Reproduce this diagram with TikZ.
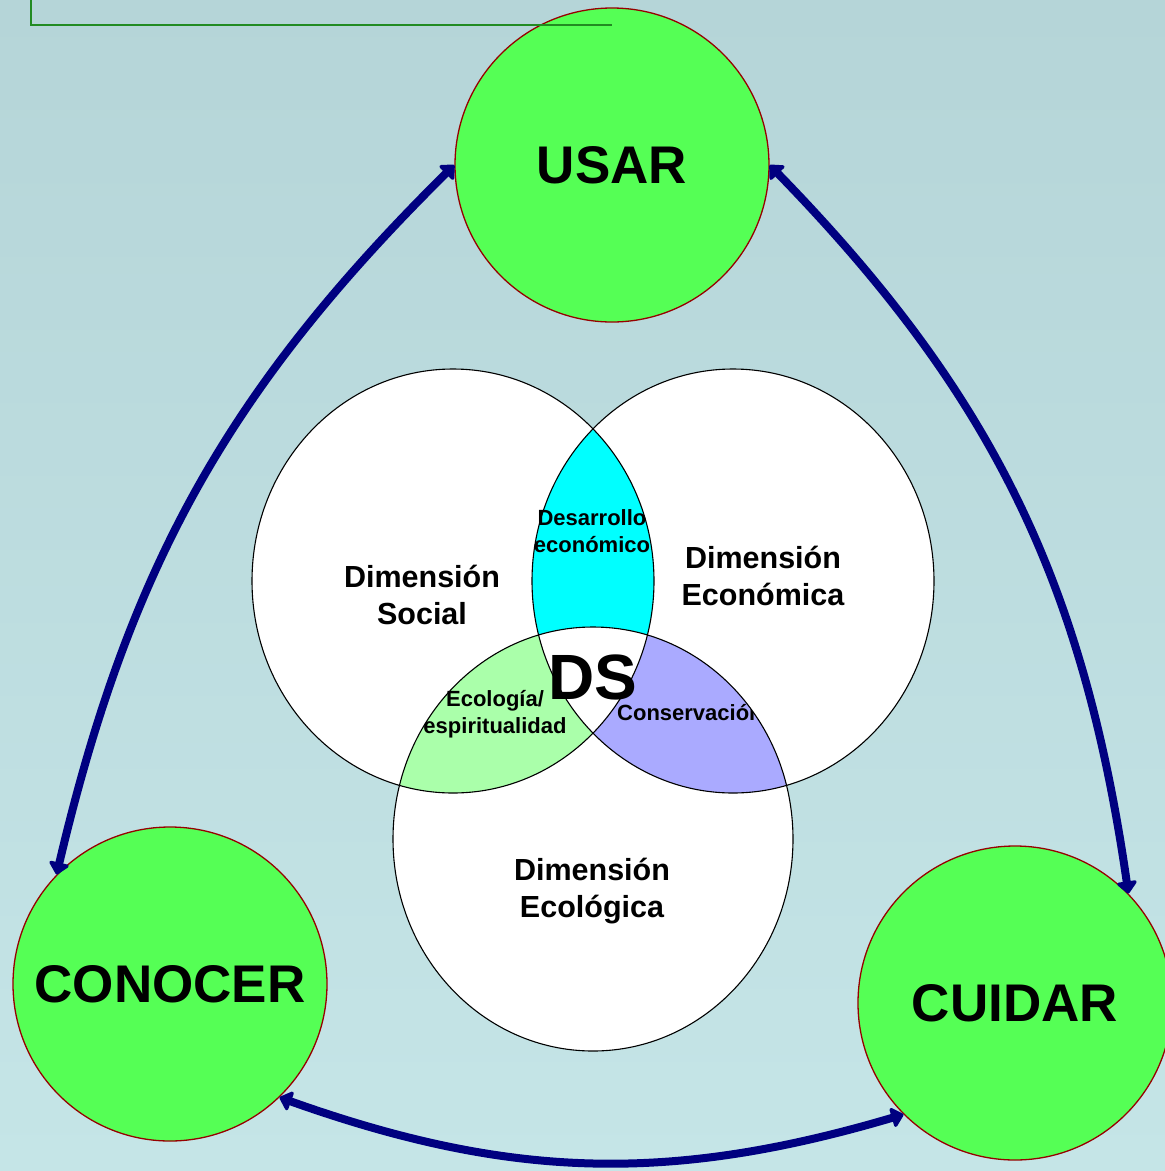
\documentclass[tikz,border=0pt]{standalone}
\usepackage{fontspec}
\setmainfont{Liberation Sans}
\usetikzlibrary{arrows.meta}
\definecolor{bgtop}{RGB}{181,213,216}
\definecolor{bgbot}{RGB}{197,229,231}
\definecolor{bright}{RGB}{85,255,85}
\definecolor{ringred}{RGB}{150,0,0}
\definecolor{navyarrow}{RGB}{0,0,128}
\definecolor{cyanfill}{RGB}{0,255,255}
\definecolor{greenfill}{RGB}{170,255,170}
\definecolor{bluefill}{RGB}{170,170,255}
\definecolor{boxgreen}{RGB}{34,139,34}
\begin{document}
\begin{tikzpicture}[x=1pt,y=-1pt,
  bigc/.style={circle,fill=bright,draw=ringred,line width=1.3pt,minimum size=314pt,inner sep=0pt,
    font=\bfseries\fontsize{53}{60}\selectfont},
  arr/.style={line width=8pt,draw=navyarrow,{Triangle[length=13pt,width=23pt,round]}-{Triangle[length=13pt,width=23pt,round]}},
  dimtxt/.style={align=center,font=\bfseries\fontsize{30.5}{37}\selectfont,inner sep=0pt},
  smalltxt/.style={align=center,font=\bfseries\fontsize{22}{27}\selectfont,inner sep=0pt},
  vline/.style={draw=black,line width=1.1pt}]
\useasboundingbox (0,0) rectangle (1165,1171);
\shade[top color=bgtop,bottom color=bgbot] (0,0) rectangle (1165,1171);
% Venn fills
\def\Soc{(453,581) ellipse [x radius=201pt,y radius=212pt]}
\def\Eco{(733,581) ellipse [x radius=201pt,y radius=212pt]}
\def\Ecl{(593,839) ellipse [x radius=200pt,y radius=212pt]}
\fill[white] \Soc; \fill[white] \Eco; \fill[white] \Ecl;
\begin{scope}\clip \Soc; \fill[cyanfill] \Eco; \end{scope}
\begin{scope}\clip \Soc; \fill[greenfill] \Ecl; \end{scope}
\begin{scope}\clip \Eco; \fill[bluefill] \Ecl; \end{scope}
\begin{scope}\clip \Soc; \clip \Eco; \fill[white] \Ecl; \end{scope}
\draw[vline] \Soc; \draw[vline] \Eco; \draw[vline] \Ecl;
% Venn texts
\node[dimtxt] (social) at (422,595) {Dimensión\\Social};
\node[dimtxt] (economica) at (763,576) {Dimensión\\Económica};
\node[dimtxt] (ecologica) at (592,891) {Dimensión\\Ecológica};
\node[smalltxt] (desarrollo) at (592,531) {Desarrollo\\económico};
\node[smalltxt] (ecolesp) at (495,714) {Ecología/\\espiritualidad};
\begin{scope}\clip \Ecl;
\node[smalltxt,anchor=west] (conserv) at (617,713) {Conservación};
\end{scope}
\node[inner sep=0pt,font=\bfseries\fontsize{64}{70}\selectfont] (ds) at (593,677) {DS};
% outer circles
\node[bigc] (usar) at (612,165) {USAR};
\node[bigc] (conocer) at (170,984) {CONOCER};
\node[bigc] (cuidar) at (1015,1003) {CUIDAR};
% title box fragment
\coordinate (boxtop) at (31,0);
\coordinate (boxcorner) at (31,25);
\coordinate (boxend) at (612,25);
\draw[boxgreen,line width=1.5pt] (boxtop) -- (boxcorner) -- (boxend);
% arrows
\draw[arr] (usar.180) to[bend right=16] (conocer.136);
\draw[arr] (usar.0) to[bend left=18] (cuidar.44);
\draw[arr] (conocer.-46) to[bend right=18] (cuidar.225);
\end{tikzpicture}
\end{document}
